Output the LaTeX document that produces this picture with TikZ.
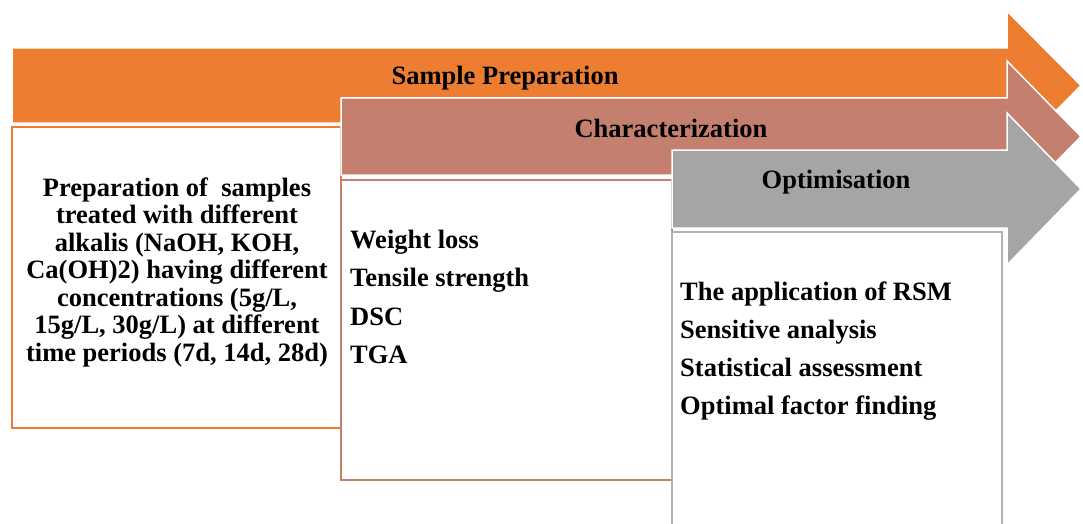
\documentclass[tikz,border=0pt]{standalone}
\usepackage{fontspec}
\setmainfont{Liberation Serif}
\usepackage{tikz}
\definecolor{prepcolor}{RGB}{237,125,49}
\definecolor{charcolor}{RGB}{196,127,111}
\definecolor{optcolor}{RGB}{165,165,165}
\newcommand{\shaftend}{1007}
\newcommand{\tipx}{1081}
\newcommand{\headext}{37}
% colour, left x, shaft top, shaft bottom
\newcommand{\stagearrow}[4]{%
    \fill[#1, draw=white, line width=1.5pt]
        (#2,#3) -- (\shaftend,#3) -- (\shaftend,#3-\headext)
        -- (\tipx,{(#3+#4)/2})
        -- (\shaftend,#4+\headext) -- (\shaftend,#4) -- (#2,#4) -- cycle;
}
\tikzset{
    stage/.style={font=\bfseries\fontsize{26.5}{27.5}\selectfont, inner sep=0pt},
    item/.style={stage, anchor=base west},
    title/.style={stage, anchor=base},
    box/.style={fill=white, line width=2pt},
}

\begin{document}
\begin{tikzpicture}[x=1pt, y=-1pt]
    \clip (0,0) rectangle (1083,524);
    \useasboundingbox (0,0) rectangle (1083,524);

    % sample preparation
    \stagearrow{prepcolor}{12}{48}{123}
    \node[title] (prep) at (505,85) {Sample Preparation};
    \draw[box, draw=prepcolor] (12,127) rectangle (341,428);
    \node[stage, align=center] (preptext) at (177,272)
        {Preparation of\ \ samples\\ treated with different\\ alkalis (NaOH, KOH,\\
         Ca(OH)2) having different\\ concentrations (5g/L,\\ 15g/L, 30g/L) at different\\
         time periods (7d, 14d, 28d)};

    % characterization
    \stagearrow{charcolor}{341}{98}{175}
    \node[title] (char) at (671,137) {Characterization};
    \draw[box, draw=charcolor] (341,180) rectangle (672,480);
    \node[item] (weight) at (350,248) {Weight loss};
    \node[item] (tensile) at (350,286) {Tensile strength};
    \node[item] (dsc) at (350,325) {DSC};
    \node[item] (tga) at (350,363) {TGA};

    % optimisation
    \stagearrow{optcolor}{672}{150}{228}
    \node[title] (opt) at (836,188) {Optimisation};
    \draw[box, draw=optcolor!85!white] (672,232) rectangle (1002,540);
    \node[item] (rsm) at (680,300) {The application of RSM};
    \node[item] (sens) at (680,338) {Sensitive analysis};
    \node[item] (stat) at (680,376) {Statistical assessment};
    \node[item] (factor) at (680,414) {Optimal factor finding};
\end{tikzpicture}
\end{document}
